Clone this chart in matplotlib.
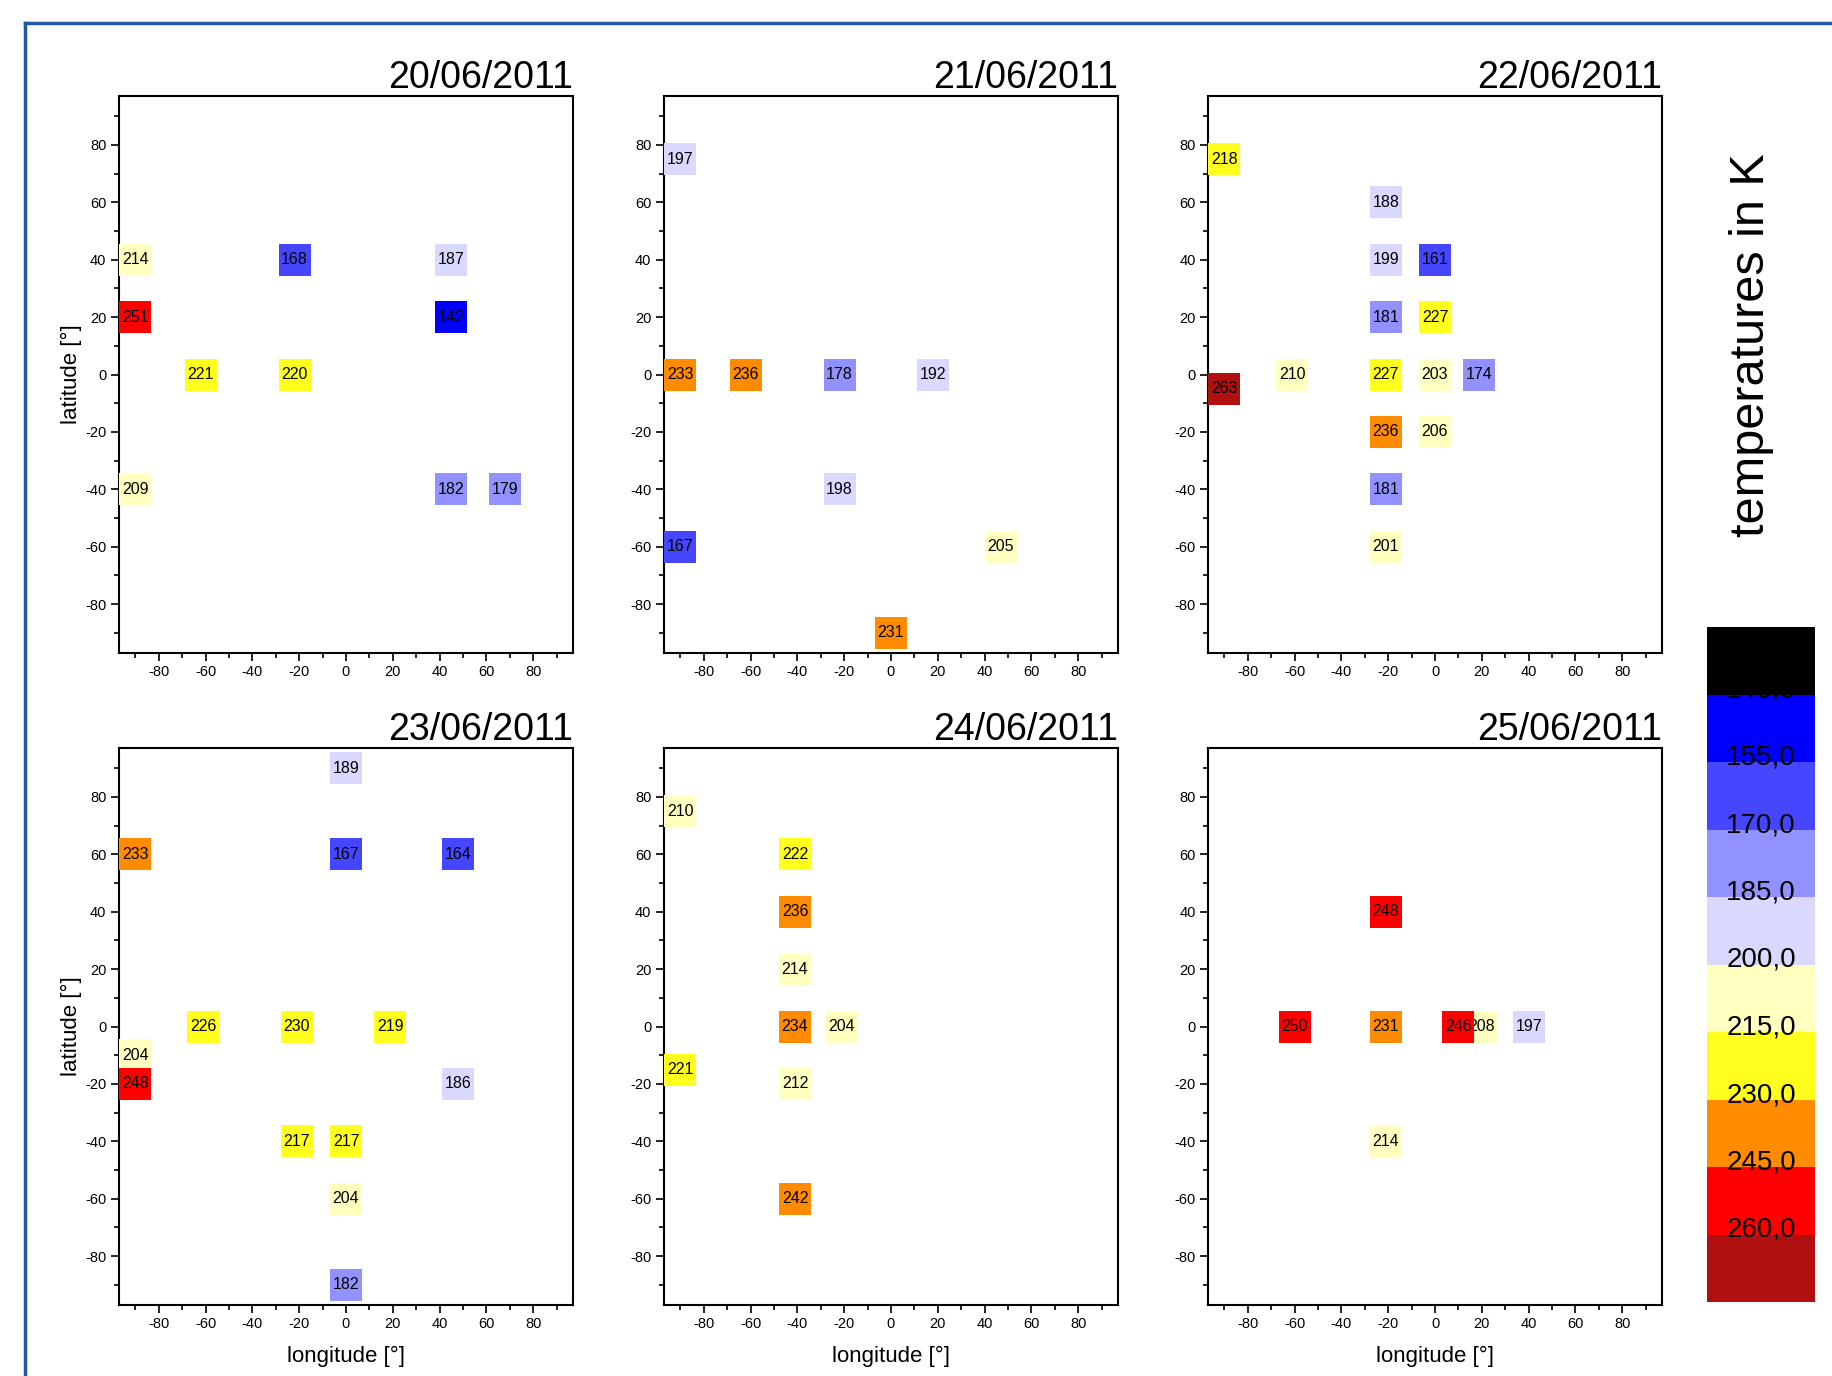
import numpy as np
import matplotlib
matplotlib.use("Agg")
import matplotlib.pyplot as plt
from matplotlib.colors import ListedColormap, BoundaryNorm
from matplotlib.cm import ScalarMappable
from matplotlib.lines import Line2D

plt.rcParams['font.family'] = ['Liberation Sans', 'DejaVu Sans']
plt.rcParams['axes.unicode_minus'] = False

# data: longitude, latitude, temperature (K)
dates = ['20/06/2011', '21/06/2011', '22/06/2011',
         '23/06/2011', '24/06/2011', '25/06/2011']

lon_20 = [-90, -90, -22, 45, 45, -62, -22, -90, 45, 68]
lat_20 = [40, 20, 40, 40, 20, 0, 0, -40, -40, -40]
temp_20 = [214, 251, 168, 187, 142, 221, 220, 209, 182, 179]

lon_21 = [-90, -90, -62, -22, 18, -22, -90, 47, 0]
lat_21 = [75, 0, 0, 0, 0, -40, -60, -60, -90]
temp_21 = [197, 233, 236, 178, 192, 198, 167, 205, 231]

lon_22 = [-90, -21, -21, 0, -21, 0, -90, -61, -21, 0, 19, -21, 0, -21, -21]
lat_22 = [75, 60, 40, 40, 20, 20, -5, 0, 0, 0, 0, -20, -20, -40, -60]
temp_22 = [218, 188, 199, 161, 181, 227, 263, 210, 227, 203, 174, 236, 206, 181, 201]

lon_23 = [0, -90, 0, 48, -61, -21, 19, -90, -90, 48, -21, 0, 0, 0]
lat_23 = [90, 60, 60, 60, 0, 0, 0, -10, -20, -20, -40, -40, -60, -90]
temp_23 = [189, 233, 167, 164, 226, 230, 219, 204, 248, 186, 217, 217, 204, 182]

lon_24 = [-90, -41, -41, -41, -41, -21, -90, -41, -41]
lat_24 = [75, 60, 40, 20, 0, 0, -15, -20, -60]
temp_24 = [210, 222, 236, 214, 234, 204, 221, 212, 242]

lon_25 = [-21, -60, -21, 20, 10, 40, -21]
lat_25 = [40, 0, 0, 0, 0, 0, -40]
temp_25 = [248, 250, 231, 208, 246, 197, 214]

panels = [(lon_20, lat_20, temp_20), (lon_21, lat_21, temp_21),
          (lon_22, lat_22, temp_22), (lon_23, lat_23, temp_23),
          (lon_24, lat_24, temp_24), (lon_25, lat_25, temp_25)]

# colour scale
levels = [125, 140, 155, 170, 185, 200, 215, 230, 245, 260, 275]
level_labels = ['140,0', '155,0', '170,0', '185,0', '200,0',
                '215,0', '230,0', '245,0', '260,0']
colors = ['#000000', '#0000ff', '#4646ff', '#9191ff', '#d9d9ff',
          '#ffffc0', '#ffff1e', '#ff8c00', '#ff0000', '#b01010']
cmap = ListedColormap(colors)
norm = BoundaryNorm(levels, cmap.N)

W, H = 1833, 1376
fig = plt.figure(figsize=(W / 100, H / 100), dpi=100)

# blue frame around the figure
frame_col = '#1f58a0'
fig.add_artist(Line2D([25 / W, 25 / W], [0, 1 - 23 / H], transform=fig.transFigure,
                      color=frame_col, lw=2.5))
fig.add_artist(Line2D([25 / W, 1], [1 - 23 / H, 1 - 23 / H], transform=fig.transFigure,
                      color=frame_col, lw=2.5))

lefts = [119, 664, 1208]
tops = [96, 748]
ax_w, ax_h = 454, 557

for i, (lon, lat, temp) in enumerate(panels):
    row, col = divmod(i, 3)
    ax = fig.add_axes([lefts[col] / W, 1 - (tops[row] + ax_h) / H, ax_w / W, ax_h / H])
    idx = np.digitize(temp, levels[1:-1], right=True)
    for k in range(len(temp)):
        ax.plot(lon[k], lat[k], 's', ms=23, mew=0, color=colors[idx[k]], zorder=3 + 2 * k)
        ax.text(lon[k], lat[k], str(temp[k]), ha='center', va='center',
                fontsize=11.5, zorder=4 + 2 * k)
    ax.set_xlim(-97, 97)
    ax.set_ylim(-97, 97)
    ax.set_xticks(np.arange(-80, 81, 20))
    ax.set_yticks(np.arange(-80, 81, 20))
    ax.set_xticks(np.arange(-90, 91, 20), minor=True)
    ax.set_yticks(np.arange(-90, 91, 20), minor=True)
    ax.tick_params(which='major', length=6, width=1.2, labelsize=10.5, pad=3)
    ax.tick_params(which='minor', length=3.5, width=1.2)
    for s in ax.spines.values():
        s.set_linewidth(1.5)
    ax.set_title(dates[i], loc='right', fontsize=27, pad=5)
    if col == 0:
        ax.set_ylabel('latitude [°]', fontsize=16, labelpad=2)
    if row == 1:
        ax.set_xlabel('longitude [°]', fontsize=16, labelpad=10)

# colour bar
cax = fig.add_axes([1707 / W, 1 - 1302 / H, 108 / W, 675 / H])
cb = fig.colorbar(ScalarMappable(norm=norm, cmap=cmap), cax=cax)
cb.outline.set_visible(False)
cb.set_ticks([])
cb.minorticks_off()
cax.tick_params(which='both', length=0)
cax.invert_yaxis()
for v, lab in zip(levels[1:-1], level_labels):
    cax.text(0.5, v - 1, lab, transform=cax.get_yaxis_transform(),
             ha='center', va='center', fontsize=20, color='black')

fig.text(1752 / W, 1 - 345 / H, 'temperatures in K', rotation=90,
         ha='center', va='center', fontsize=35)

fig.savefig('out.png', dpi=100, facecolor='white')
